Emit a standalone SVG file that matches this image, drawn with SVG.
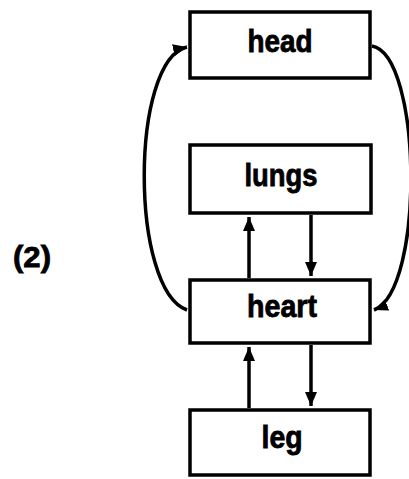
<svg xmlns="http://www.w3.org/2000/svg" width="409" height="479" viewBox="0 0 409 479">
<style>
.box{fill:#fff;stroke:#000;stroke-width:3.5}
.lbl{font-family:"Liberation Sans",Arial,sans-serif;font-weight:bold;font-size:31px;fill:#000;stroke:#000;stroke-width:0.8;text-anchor:middle}
.con{fill:none;stroke:#000;stroke-width:3.5}
</style>
<defs>
<marker id="ah" markerUnits="userSpaceOnUse" markerWidth="16" markerHeight="14" refX="14" refY="6" orient="auto">
<path d="M0,0 L14,6 L0,12 z" fill="#000"/>
</marker>
</defs>
<rect width="409" height="479" fill="#fff"/>
<text x="32" y="267" class="lbl" textLength="38" lengthAdjust="spacingAndGlyphs" style="font-size:30px">(2)</text>
<g id="connectors">
<path class="con" d="M249,278 L249,217" marker-end="url(#ah)"/>
<path class="con" d="M311,215 L311,276" marker-end="url(#ah)"/>
<path class="con" d="M249,408 L249,347" marker-end="url(#ah)"/>
<path class="con" d="M311,345 L311,406" marker-end="url(#ah)"/>
<path class="con" d="M187,310 C130,290 130,60 187,47" marker-end="url(#ah)"/>
<path class="con" d="M372,46 C422,55 425,290 374,310" marker-end="url(#ah)"/>
</g>
<g id="head">
<rect class="box" x="190" y="12" width="180" height="66"/>
<text class="lbl" x="280" y="52" textLength="65" lengthAdjust="spacingAndGlyphs">head</text>
</g>
<g id="lungs">
<rect class="box" x="190" y="145" width="181" height="68"/>
<text class="lbl" x="281" y="186" textLength="73" lengthAdjust="spacingAndGlyphs">lungs</text>
</g>
<g id="heart">
<rect class="box" x="190" y="280" width="180" height="63"/>
<text class="lbl" x="282" y="317" textLength="70" lengthAdjust="spacingAndGlyphs">heart</text>
</g>
<g id="leg">
<rect class="box" x="190" y="410" width="180" height="65"/>
<text class="lbl" x="282" y="448" textLength="41" lengthAdjust="spacingAndGlyphs">leg</text>
</g>
</svg>
